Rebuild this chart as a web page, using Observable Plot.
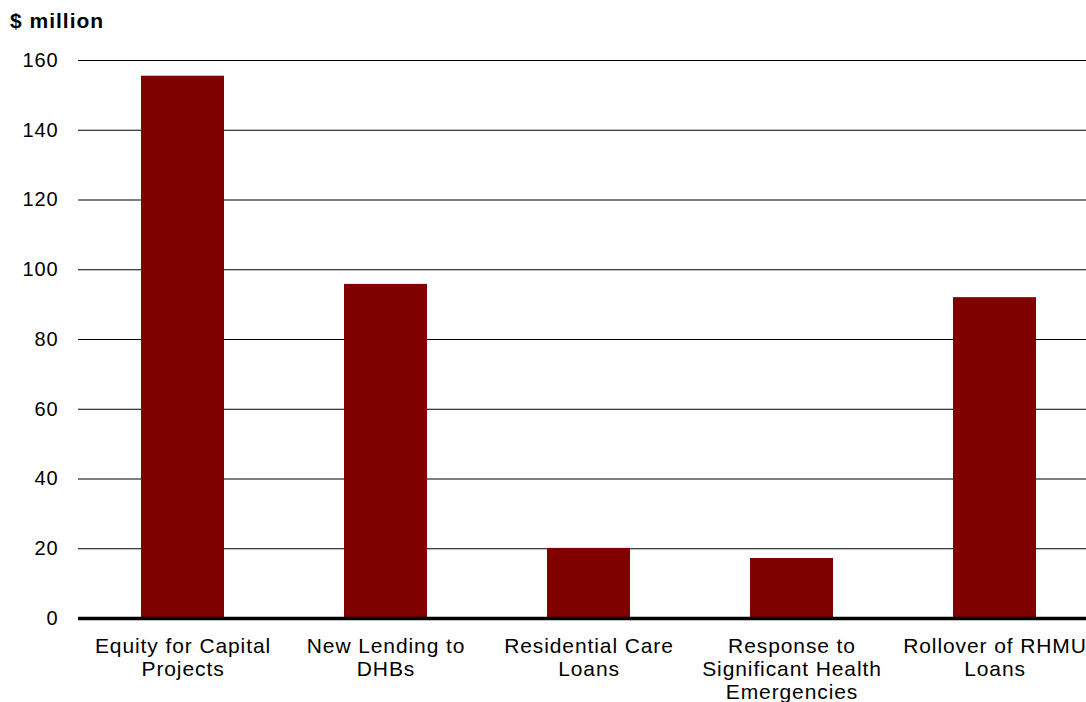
<!DOCTYPE html>
<html>
<head>
<meta charset="utf-8">
<script src="https://cdn.jsdelivr.net/npm/d3@7"></script>
<script src="https://cdn.jsdelivr.net/npm/@observablehq/plot@0.6"></script>
<style>
  html, body { margin: 0; padding: 0; background: #fff; overflow: hidden; }
  #wrap { position: relative; width: 1086px; height: 702px; overflow: hidden; font-family: "Liberation Sans", Arial, sans-serif; }
  #ylabel { position: absolute; left: 10px; top: 9px; font-size: 21px; font-weight: bold; color: #000; letter-spacing: 1px; }
  #wrap svg g[aria-label="y-axis tick label"] text { letter-spacing: 0.9px; }
  #wrap svg g[aria-label="x-axis tick label"] text { letter-spacing: 0.9px; }
</style>
</head>
<body>
<div id="wrap"><div id="ylabel">$ million</div></div>
<script>
const categories = [
  "Equity for Capital\nProjects",
  "New Lending to\nDHBs",
  "Residential Care\nLoans",
  "Response to\nSignificant Health\nEmergencies",
  "Rollover of RHMU\nLoans"
];
const values = [155.5, 95.8, 20.1, 17.2, 92.0];
const yTicks = [0, 20, 40, 60, 80, 100, 120, 140, 160];

const data = categories.map((c, i) => ({category: c, value: values[i]}));

const chart = Plot.plot({
  width: 1086,
  height: 702,
  marginLeft: 78,
  marginRight: 0,
  marginTop: 60,
  marginBottom: 84,
  style: {fontFamily: "'Liberation Sans', Arial, sans-serif", background: "#fff", overflow: "visible"},
  x: {domain: categories, range: [79.75, 1097.25], paddingInner: 0.59, paddingOuter: 0.295, label: null},
  y: {domain: [0, 160], ticks: yTicks, label: null},
  marks: [
    Plot.gridY(yTicks.filter(d => d > 0), {stroke: "#000", strokeOpacity: 1, strokeWidth: 1.2}),
    Plot.barY(data, {x: "category", y: "value", fill: "#800000"}),
    Plot.ruleY([0], {stroke: "#000", strokeWidth: 3.5}),
    Plot.axisY(yTicks, {tickSize: 0, tickPadding: 20, fontSize: 20, fill: "#000", label: null}),
    Plot.axisX({tickSize: 0, tickPadding: 18, fontSize: 21, lineHeight: 1.1, fill: "#000", label: null})
  ]
});
document.getElementById("wrap").appendChild(chart);
</script>
</body>
</html>
